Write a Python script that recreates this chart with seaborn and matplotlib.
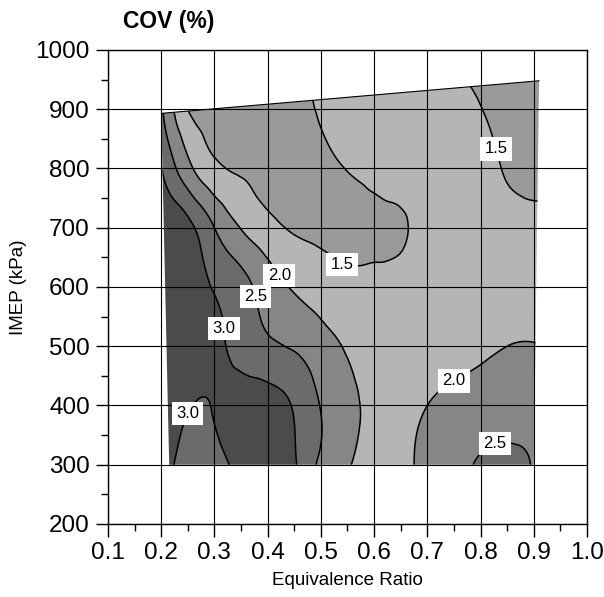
import numpy as np
import matplotlib
matplotlib.use("Agg")
import matplotlib.pyplot as plt
import matplotlib.tri as mtri
from matplotlib.patches import Polygon
from matplotlib.ticker import MultipleLocator, FormatStrFormatter
import seaborn as sns

# Measurement grid: equivalence ratio columns, IMEP rows (kPa)
phi = [0.20, 0.25, 0.30, 0.35, 0.40, 0.45, 0.50, 0.55,
       0.60, 0.65, 0.70, 0.75, 0.80, 0.85, 0.91]
imep_rows = [300, 400, 500, 600, 700, 800]
# highest load reached at each equivalence ratio
imep_top = [893, 897, 901, 905, 909, 913, 917, 920,
            924, 928, 932, 936, 940, 944, 948]

# COV of IMEP (%) at each grid point, one list per load row
cov_300 = [3.30, 2.80, 2.85, 3.10, 3.15, 3.05, 2.40, 2.05, 1.80, 1.90, 2.10, 2.32, 2.55, 2.60, 2.45]
cov_400 = [3.40, 3.03, 3.03, 3.20, 3.20, 2.95, 2.48, 2.15, 1.85, 1.80, 2.00, 2.15, 2.25, 2.30, 2.30]
cov_500 = [3.40, 3.30, 3.10, 2.85, 2.60, 2.45, 2.20, 1.95, 1.75, 1.70, 1.70, 1.80, 1.90, 2.00, 2.01]
cov_600 = [3.50, 3.25, 2.97, 2.68, 2.25, 1.95, 1.75, 1.62, 1.62, 1.63, 1.65, 1.68, 1.70, 1.75, 1.80]
cov_700 = [3.50, 3.15, 2.50, 1.98, 1.65, 1.45, 1.40, 1.38, 1.40, 1.45, 1.64, 1.68, 1.65, 1.60, 1.60]
cov_800 = [3.02, 2.15, 1.60, 1.45, 1.35, 1.35, 1.42, 1.51, 1.60, 1.68, 1.70, 1.68, 1.58, 1.48, 1.42]
cov_top = [2.60, 1.51, 1.40, 1.35, 1.35, 1.42, 1.53, 1.60, 1.65, 1.66, 1.62, 1.55, 1.47, 1.42, 1.40]

# operating-map outline
edge_phi = [0.215, 0.20, 0.91, 0.90]
edge_imep = [300, 893, 948, 300]

levels = [1.5, 2.0, 2.5, 3.0]
band_bounds = [0.0, 1.5, 2.0, 2.5, 3.0, 10.0]
band_colors = ["#9a9a9a", "#b5b5b5", "#868686", "#6b6b6b", "#4b4b4b"]

# contour label anchors (phi, IMEP)
label_pos = [(0.544, 646), (0.814, 829), (0.416, 615), (0.362, 580),
             (0.309, 529), (0.252, 385), (0.746, 448), (0.829, 331)]

sns.set_theme(style="ticks")
plt.rcParams["font.family"] = ["Liberation Sans", "DejaVu Sans"]
for key in ["text.color", "axes.labelcolor", "xtick.color", "ytick.color", "axes.edgecolor"]:
    plt.rcParams[key] = "black"

# structured mesh with a sloped upper edge
nx, ny = len(phi), len(imep_rows) + 1
X = np.tile(np.array(phi), (ny, 1))
Y = np.vstack([np.tile(np.array(imep_rows, float)[:, None], (1, nx)),
               np.array(imep_top, float)[None, :]])
Z = np.array([cov_300, cov_400, cov_500, cov_600, cov_700, cov_800, cov_top])

tris = []
for i in range(ny - 1):
    for j in range(nx - 1):
        k = i * nx + j
        tris.append([k, k + 1, k + nx + 1])
        tris.append([k, k + nx + 1, k + nx])
tri = mtri.Triangulation(X.ravel(), Y.ravel(), np.array(tris))
tri_f, z_f = mtri.UniformTriRefiner(tri).refine_field(Z.ravel(), subdiv=4)

fig = plt.figure(figsize=(6.04, 5.97), dpi=100)
ax = fig.add_axes([0.1788, 0.1223, 0.7930, 0.7940])

outline = Polygon(np.column_stack([edge_phi, edge_imep]), closed=True,
                  transform=ax.transData, facecolor="none", edgecolor="none")

cf = ax.tricontourf(tri_f, z_f, levels=band_bounds, colors=band_colors)
cf.set_clip_path(outline)
cl = ax.tricontour(tri_f, z_f, levels=levels, colors="black", linewidths=1.1)
cl.set_clip_path(outline)
ax.plot(edge_phi[1:3], edge_imep[1:3], color="black", lw=0.8)

texts = ax.clabel(cl, manual=label_pos, fmt="%.1f", inline=True,
                  inline_spacing=2, fontsize=12)
for t in texts:
    t.set_rotation(0)
    t.set_bbox(dict(facecolor="white", edgecolor="none", boxstyle="square,pad=0.25"))
    t.set_zorder(5)

ax.set_xlim(0.1, 1.0)
ax.set_ylim(200, 1000)
ax.xaxis.set_major_locator(MultipleLocator(0.1))
ax.xaxis.set_minor_locator(MultipleLocator(0.05))
ax.yaxis.set_major_locator(MultipleLocator(100))
ax.yaxis.set_minor_locator(MultipleLocator(50))
ax.xaxis.set_major_formatter(FormatStrFormatter("%.1f"))
ax.yaxis.set_major_formatter(FormatStrFormatter("%d"))
ax.tick_params(which="major", direction="out", length=9, width=1, labelsize=17.5, pad=4)
ax.tick_params(which="minor", direction="out", length=5, width=1)
ax.grid(True, which="major", color="black", lw=0.8)
ax.set_axisbelow(False)
for s in ax.spines.values():
    s.set_color("black")
    s.set_linewidth(1.0)

ax.set_xlabel("Equivalence Ratio", fontsize=13.5, labelpad=6)
ax.set_ylabel("IMEP (kPa)", fontsize=13.5, labelpad=6)
fig.text(123 / 604, 1 - 28 / 597, "COV (%)", fontsize=16.5, fontweight="bold",
         ha="left", va="baseline")

fig.savefig("out.png", dpi=100)
